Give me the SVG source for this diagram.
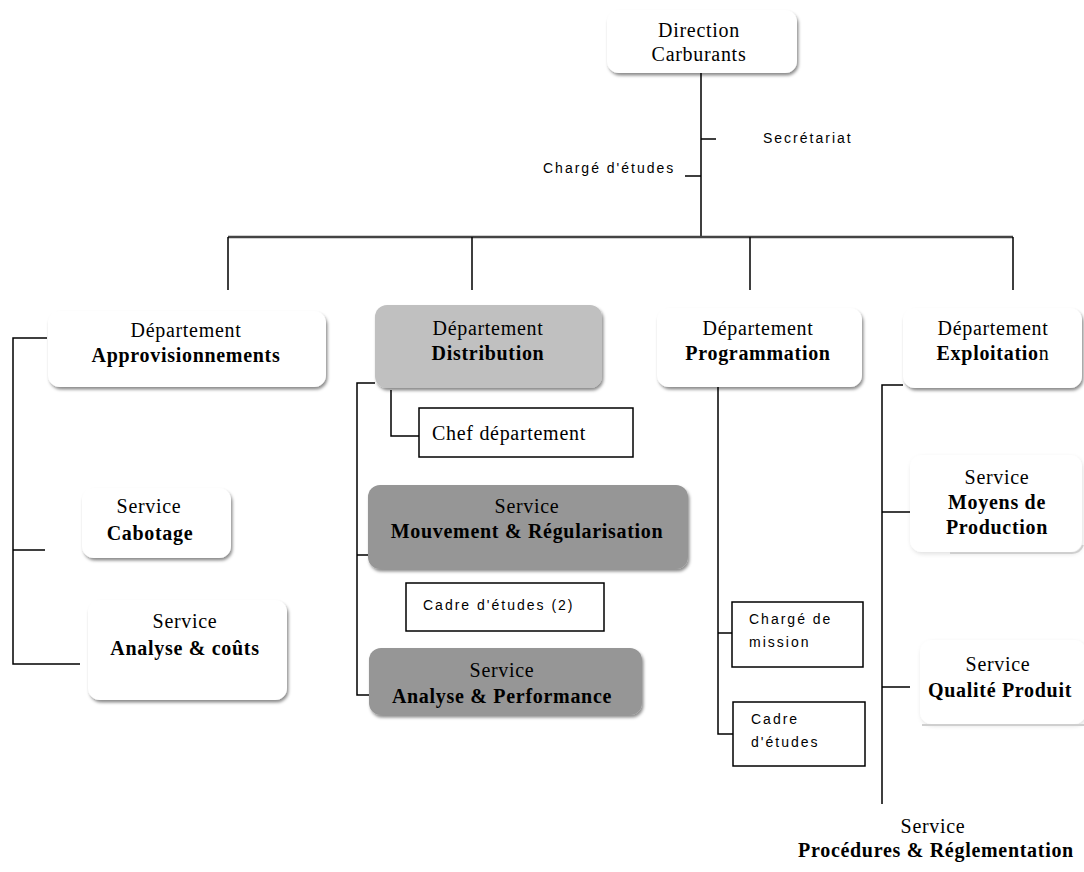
<svg xmlns="http://www.w3.org/2000/svg" width="1084" height="872" viewBox="0 0 1084 872">
<defs>
<filter id="sh" x="-10%" y="-20%" width="125%" height="150%">
<feDropShadow dx="1.5" dy="2.5" stdDeviation="1.5" flood-color="#000" flood-opacity="0.45"/>
</filter>
<filter id="shf" x="-10%" y="-20%" width="125%" height="150%">
<feDropShadow dx="1" dy="2" stdDeviation="2" flood-color="#000" flood-opacity="0.12"/>
</filter>
<style>
.t{font-family:"Liberation Serif","Times New Roman",serif;font-size:20px;letter-spacing:0.7px;fill:#000;text-anchor:middle}
.b{font-weight:bold}
.s{font-family:"Liberation Sans",Arial,sans-serif;font-size:14px;letter-spacing:2px;fill:#000}
.w{fill:#fff;filter:url(#sh)}
.wf{fill:#fff;filter:url(#shf)}
.g1{fill:#c0c0c0;filter:url(#sh)}
.g2{fill:#969696;filter:url(#sh)}
.bx{fill:#fff;stroke:#000;stroke-width:1.5}
.c{stroke:#000;stroke-width:1.5;fill:none}
.edge{stroke:#cfcfcf;stroke-width:2;fill:none}
</style>
</defs>
<rect width="1084" height="872" fill="#fff"/>
<g id="connectors">
<path class="c" d="M701 73V237M701 139H716M685 176H701"/>
<path d="M228 237H1013" stroke="#444" stroke-width="2.5" fill="none"/>
<path class="c" d="M228 237V290M472 237V290M750 237V290M1013 237V290"/>
<path class="c" d="M47 338H13V664H80M13 550H45"/>
<path class="c" d="M375 383H357V695H369M357 555H368M391 390V436H419"/>
<path class="c" d="M718 387V734H733M718 633H732"/>
<path class="c" d="M903 385H882V804M882 512H931M882 687H910"/>
</g>
<g id="direction">
<rect class="w" x="607" y="10" width="190" height="63" rx="12"/>
<text class="t" x="699" y="37">Direction</text>
<text class="t" x="699" y="61">Carburants</text>
</g>
<g id="secretariat"><text class="s" x="763" y="143">Secrétariat</text></g>
<g id="charge-etudes"><text class="s" x="543" y="173">Chargé d'études</text></g>
<g id="dep-approvisionnements">
<rect class="w" x="48" y="311" width="278" height="76" rx="12"/>
<text class="t" x="186" y="337">Département</text>
<text class="t b" x="186" y="362">Approvisionnements</text>
</g>
<g id="dep-distribution">
<rect class="g1" x="375" y="305" width="227" height="83" rx="12"/>
<text class="t" x="488" y="335">Département</text>
<text class="t b" x="488" y="360">Distribution</text>
</g>
<g id="dep-programmation">
<rect class="w" x="657" y="308" width="205" height="79" rx="12"/>
<text class="t" x="758" y="335">Département</text>
<text class="t b" x="758" y="360">Programmation</text>
</g>
<g id="dep-exploitation">
<rect class="w" x="903" y="308" width="179" height="80" rx="12"/>
<text class="t" x="993" y="335">Département</text>
<text class="t" x="993" y="360"><tspan class="b">Exploitatio</tspan>n</text>
</g>
<g id="svc-cabotage">
<rect class="w" x="82" y="488" width="149" height="70" rx="12"/>
<text class="t" x="149" y="513">Service</text>
<text class="t b" x="150" y="540">Cabotage</text>
</g>
<g id="svc-analyse-couts">
<rect class="w" x="88" y="600" width="199" height="100" rx="12"/>
<text class="t" x="185" y="628">Service</text>
<text class="t b" x="185" y="655">Analyse &amp; coûts</text>
</g>
<g id="chef-departement">
<rect class="bx" x="419" y="408" width="214" height="49"/>
<text class="t" x="432" y="440" style="text-anchor:start">Chef département</text>
</g>
<g id="svc-mouvement">
<rect class="g2" x="368" y="485" width="320" height="84" rx="12"/>
<text class="t" x="527" y="513">Service</text>
<text class="t b" x="527" y="538">Mouvement &amp; Régularisation</text>
</g>
<g id="cadre-etudes-2">
<rect class="bx" x="406" y="583" width="198" height="48"/>
<text class="s" x="423" y="610">Cadre d'études (2)</text>
</g>
<g id="svc-analyse-performance">
<rect class="g2" x="369" y="648" width="273" height="67" rx="12"/>
<text class="t" x="502" y="677">Service</text>
<text class="t b" x="502" y="703">Analyse &amp; Performance</text>
</g>
<g id="charge-mission">
<rect class="bx" x="732" y="602" width="131" height="65"/>
<text class="s" x="749" y="624">Chargé de</text>
<text class="s" x="749" y="647">mission</text>
</g>
<g id="cadre-etudes">
<rect class="bx" x="733" y="702" width="132" height="64"/>
<text class="s" x="751" y="724">Cadre</text>
<text class="s" x="751" y="747">d'études</text>
</g>
<g id="svc-moyens">
<rect class="wf" x="910" y="455" width="172" height="97" rx="12"/>
<path class="edge" d="M950 553H1072Q1080 553 1083 545"/>
<text class="t" x="997" y="484">Service</text>
<text class="t b" x="997" y="509">Moyens de</text>
<text class="t b" x="997" y="534">Production</text>
</g>
<g id="svc-qualite">
<rect class="wf" x="920" y="640" width="166" height="84" rx="12"/>
<path class="edge" d="M922 725H1084"/>
<text class="t" x="998" y="671">Service</text>
<text class="t b" x="1000" y="697">Qualité Produit</text>
</g>
<g id="svc-procedures">
<text class="t" x="933" y="833">Service</text>
<text class="t b" x="936" y="857">Procédures &amp; Réglementation</text>
</g>
</svg>
